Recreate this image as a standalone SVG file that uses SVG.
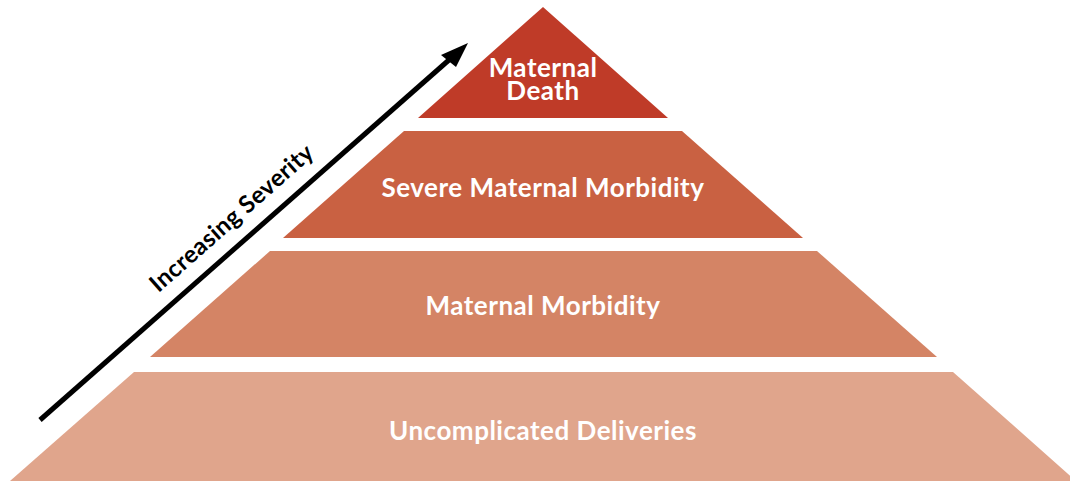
<svg xmlns="http://www.w3.org/2000/svg" width="1070" height="481" viewBox="0 0 1070 481">
  <defs>
    <style>
      .lbl { font-family: Lato, "Open Sans", "Liberation Sans", sans-serif; font-weight: 700; font-size: 26px; letter-spacing: 0.5px; fill: #ffffff; text-anchor: middle; }
      .axis { font-family: Lato, "Open Sans", "Liberation Sans", sans-serif; font-weight: 700; font-size: 24px; letter-spacing: 0.4px; fill: #000000; text-anchor: middle; }
    </style>
  </defs>
  <rect width="1070" height="481" fill="#ffffff"/>
  <g id="tier-maternal-death">
    <polygon points="543,7 668,118 418,118" fill="#bf3b28"/>
    <text class="lbl" x="543" y="77">Maternal</text>
    <text class="lbl" x="543" y="100">Death</text>
  </g>
  <g id="tier-severe-maternal-morbidity">
    <polygon points="404,131 682,131 803,238 283,238" fill="#c96142"/>
    <text class="lbl" x="543" y="197">Severe Maternal Morbidity</text>
  </g>
  <g id="tier-maternal-morbidity">
    <polygon points="270,251 817,251 937,357 150,357" fill="#d48465"/>
    <text class="lbl" x="543" y="315">Maternal Morbidity</text>
  </g>
  <g id="tier-uncomplicated-deliveries">
    <polygon points="134,372 953,372 1076,481 10,481" fill="#e0a58c"/>
    <text class="lbl" x="543" y="440">Uncomplicated Deliveries</text>
  </g>
  <g id="connectors">
    <line x1="40" y1="420" x2="458" y2="52" stroke="#000000" stroke-width="5"/>
    <polygon points="468,43 441,55 456,67" fill="#000000"/>
  </g>
  <g id="axis-label">
    <text class="axis" transform="translate(237,224) rotate(-41.4)" x="0" y="0">Increasing Severity</text>
  </g>
</svg>
